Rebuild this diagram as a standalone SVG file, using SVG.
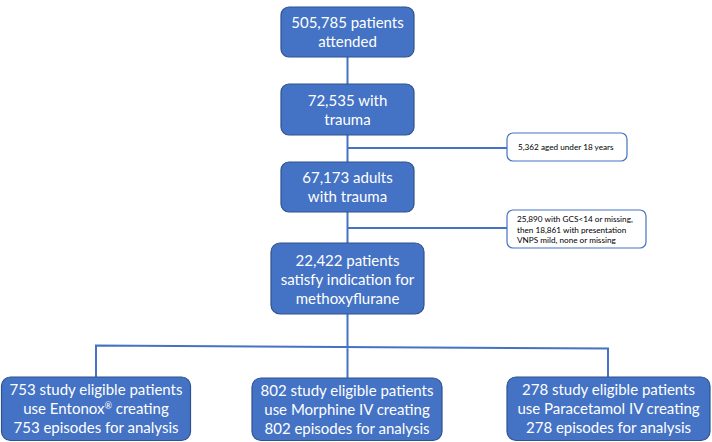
<svg xmlns="http://www.w3.org/2000/svg" width="712" height="442" viewBox="0 0 712 442">
<style>
.box{fill:#4472C4;stroke:#2F528F;stroke-width:1.2}
.side{fill:#fff;stroke:#4472C4;stroke-width:1.2}
.t{font-family:Lato,"Liberation Sans",sans-serif;font-size:15px;fill:#fff;text-anchor:middle}
.s{font-family:Lato,"Liberation Sans",sans-serif;font-size:8.2px;fill:#000}
.c{stroke:#4472C4;stroke-width:2;fill:none}
</style>
<rect width="712" height="442" fill="#fff"/>
<g id="connectors">
<path class="c" d="M347.5 57V84M347.5 135V162M347.5 148H507M347.5 212V243M347.5 228H507M347.5 314V378M96 377V345.5L608 348.5V377"/>
</g>
<g id="n1"><rect class="box" x="281" y="7" width="133" height="50" rx="8"/>
<text class="t" x="347.5" y="28">505,785 patients</text><text class="t" x="347.5" y="47">attended</text></g>
<g id="n2"><rect class="box" x="281" y="84" width="133" height="51" rx="8"/>
<text class="t" x="347.5" y="106">72,535 with</text><text class="t" x="347.5" y="125">trauma</text></g>
<g id="s1"><rect class="side" x="507" y="133" width="120" height="28" rx="6"/>
<text class="s" x="518" y="150">5,362 aged under 18 years</text></g>
<g id="n3"><rect class="box" x="281" y="162" width="133" height="50" rx="8"/>
<text class="t" x="347.5" y="183">67,173 adults</text><text class="t" x="347.5" y="202">with trauma</text></g>
<g id="s2"><rect class="side" x="507" y="210" width="139" height="38" rx="6"/>
<text class="s" x="517" y="222">25,890 with GCS&lt;14 or missing,</text>
<text class="s" x="517" y="232.5">then 18,861 with presentation</text>
<text class="s" x="517" y="243">VNPS mild, none or missing</text></g>
<g id="n4"><rect class="box" x="271" y="243" width="153" height="71" rx="9"/>
<text class="t" x="347.5" y="266">22,422 patients</text><text class="t" x="347.5" y="285">satisfy indication for</text><text class="t" x="347.5" y="304">methoxyflurane</text></g>
<g id="b1"><rect class="box" x="1.5" y="377" width="189" height="63.5" rx="9"/>
<text class="t" x="96" y="395">753 study eligible patients</text><text class="t" x="96" y="414">use Entonox<tspan font-size="9" dy="-5">®</tspan><tspan dy="5"> creating</tspan></text><text class="t" x="96" y="433">753 episodes for analysis</text></g>
<g id="b2"><rect class="box" x="252" y="378" width="190" height="62.5" rx="9"/>
<text class="t" x="347" y="396">802 study eligible patients</text><text class="t" x="347" y="415">use Morphine IV creating</text><text class="t" x="347" y="434">802 episodes for analysis</text></g>
<g id="b3"><rect class="box" x="507" y="377" width="203" height="63.5" rx="9"/>
<text class="t" x="608.5" y="395">278 study eligible patients</text><text class="t" x="608.5" y="414">use Paracetamol IV creating</text><text class="t" x="608.5" y="433">278 episodes for analysis</text></g>
</svg>
